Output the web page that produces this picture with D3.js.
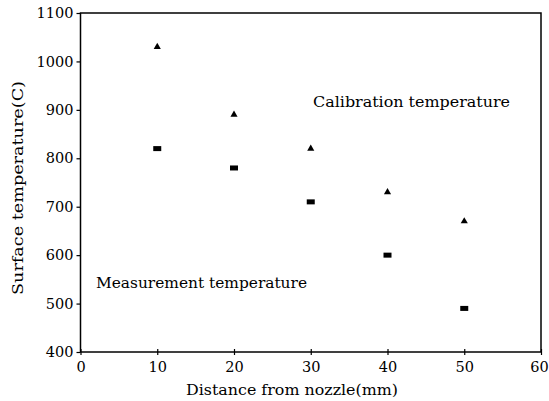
<!DOCTYPE html>
<html>
<head>
<meta charset="utf-8">
<script src="https://cdn.jsdelivr.net/npm/d3@7"></script>
<style>
  body { margin: 0; background: #fff; }
  text { font-family: "DejaVu Serif", "Liberation Serif", serif; fill: #000; }
</style>
</head>
<body>
<div id="chart"></div>
<script>
// distances (mm) and temperatures
const distances = [10, 20, 30, 40, 50];
const calibrationTemps = [1030, 890, 820, 730, 670];
const measurementTemps = [820, 780, 710, 600, 490];
const xTicks = [0, 10, 20, 30, 40, 50, 60];
const yTicks = [400, 500, 600, 700, 800, 900, 1000, 1100];

const width = 549;
const height = 401;
const margin = { top: 13, right: 8, bottom: 49, left: 80.5 };

const svg = d3
  .select("#chart")
  .append("svg")
  .attr("width", width)
  .attr("height", height);

const x = d3
  .scaleLinear()
  .domain([0, 60])
  .range([margin.left, width - margin.right]);

const y = d3
  .scaleLinear()
  .domain([400, 1100])
  .range([height - margin.bottom, margin.top]);

// frame
svg
  .append("rect")
  .attr("x", x(0))
  .attr("y", y(1100))
  .attr("width", x(60) - x(0))
  .attr("height", y(400) - y(1100))
  .attr("fill", "none")
  .attr("stroke", "#000")
  .attr("stroke-width", 1.5);

// x axis - small ticks across the line
const xAxis = svg
  .append("g")
  .attr("transform", `translate(0,${y(400)})`)
  .call(
    d3.axisBottom(x).tickValues(xTicks).tickFormat(d3.format("d")).tickSize(3).tickPadding(7)
  );
xAxis.select(".domain").remove();
xAxis.selectAll(".tick line").attr("y1", -3).attr("stroke-width", 1.2);
xAxis.selectAll(".tick text").style("font-size", "14.5px");
// last label sits at the page edge, keep it inside
xAxis.selectAll(".tick text").filter((d) => d === 60).attr("dx", -2);

// y axis
const yAxis = svg
  .append("g")
  .attr("transform", `translate(${x(0)},0)`)
  .call(
    d3.axisLeft(y).tickValues(yTicks).tickFormat(d3.format("d")).tickSize(4).tickPadding(3)
  );
yAxis.select(".domain").remove();
yAxis.selectAll(".tick line").attr("stroke-width", 1.2);
yAxis.selectAll(".tick text").style("font-size", "14.5px");

// calibration: triangles
svg
  .selectAll(".tri")
  .data(distances)
  .enter()
  .append("path")
  .attr("class", "tri")
  .attr("d", d3.symbol().type(d3.symbolTriangle).size(22))
  .attr("transform", (d, i) => `translate(${x(d)},${y(calibrationTemps[i])})`)
  .attr("fill", "#000");

// measurement: squares (slightly wide)
svg
  .selectAll(".sq")
  .data(distances)
  .enter()
  .append("rect")
  .attr("class", "sq")
  .attr("x", (d) => x(d) - 4)
  .attr("y", (d, i) => y(measurementTemps[i]) - 2.5)
  .attr("width", 8)
  .attr("height", 5)
  .attr("fill", "#000");

// series labels
svg
  .append("text")
  .attr("x", 313)
  .attr("y", 107)
  .attr("textLength", 197)
  .attr("lengthAdjust", "spacingAndGlyphs")
  .style("font-size", "15px")
  .text("Calibration temperature");

svg
  .append("text")
  .attr("x", 96)
  .attr("y", 288)
  .attr("textLength", 211)
  .attr("lengthAdjust", "spacingAndGlyphs")
  .style("font-size", "15px")
  .text("Measurement temperature");

// axis titles
svg
  .append("text")
  .attr("x", 186)
  .attr("y", 395)
  .attr("textLength", 212)
  .attr("lengthAdjust", "spacingAndGlyphs")
  .style("font-size", "15px")
  .text("Distance from nozzle(mm)");

svg
  .append("text")
  .attr("transform", "translate(23,188) rotate(-90)")
  .attr("text-anchor", "middle")
  .attr("textLength", 214)
  .attr("lengthAdjust", "spacingAndGlyphs")
  .style("font-size", "15px")
  .text("Surface temperature(C)");
</script>
</body>
</html>
